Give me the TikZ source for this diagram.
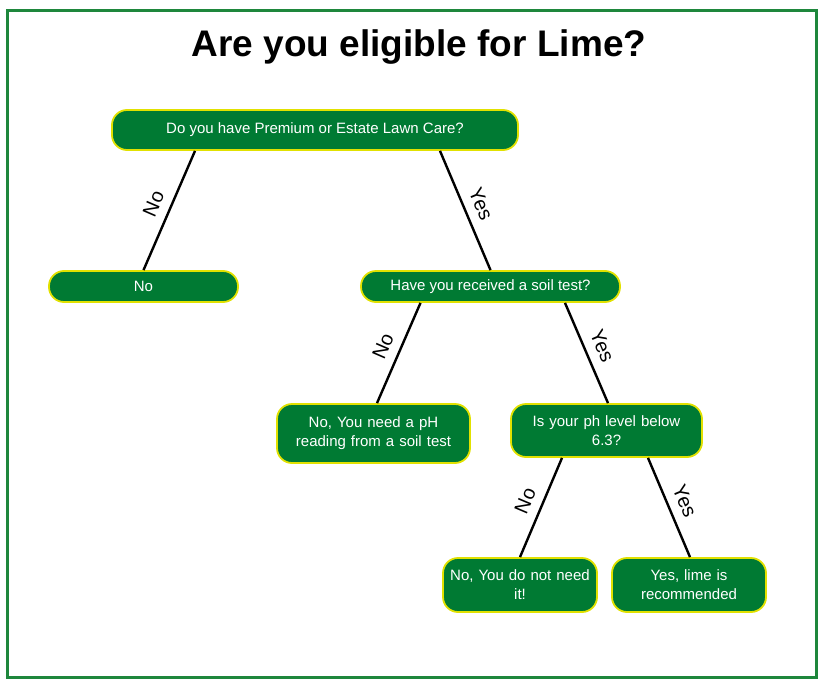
\documentclass[tikz,border=0pt]{standalone}
\usepackage{fontspec}
\setmainfont{Liberation Sans}
\usetikzlibrary{positioning}
\definecolor{lawngreen}{RGB}{0,122,51}
\definecolor{framegreen}{RGB}{30,135,60}
\definecolor{rimyellow}{RGB}{225,225,0}

\begin{document}
\begin{tikzpicture}[x=1pt,y=-1pt,
  answer/.style={draw=rimyellow, line width=1.8pt, fill=lawngreen, text=white,
    rounded corners=15pt, align=center, inner sep=2pt,
    font=\fontsize{15}{19}\selectfont},
  branch/.style={line width=2.4pt},
  tag/.style={sloped, above=7pt, midway, inner sep=2pt, font=\fontsize{20}{22}\selectfont}]
\useasboundingbox (0,0) rectangle (824,685);
\draw[framegreen, line width=3pt] (7,11) rectangle (816,677);
\node (title) at (419,47) {\fontsize{37}{42}\selectfont\bfseries Are you eligible for Lime?};
\node[answer, minimum width=406pt, minimum height=40pt] (lawn) at (315,130) {Do you have Premium or Estate Lawn Care?};
\node[answer, minimum width=189pt, minimum height=31pt] (nolawn) at (143.5,286.5) {No};
\node[answer, minimum width=259pt, minimum height=31pt] (soil) at (490.5,286.5) {Have you received a soil test?};
\node[answer, minimum width=193pt, minimum height=59pt, text width=185pt] (needph) at (373.5,433.5) {No, You need a pH\\ reading from a soil test};
\node[answer, minimum width=191pt, minimum height=53pt, text width=185pt] (level) at (606.5,430.5) {Is your ph level below\\ 6.3?};
\node[answer, minimum width=154pt, minimum height=54pt, text width=150pt] (noneed) at (520,585) {No, You do not need\\ it!};
\node[answer, minimum width=154pt, minimum height=54pt, text width=150pt] (lime) at (689,585) {Yes, lime is\\ recommended};
\draw[branch] ([xshift=-120pt]lawn.south) -- (nolawn.north) node[tag] {No};
\draw[branch] ([xshift=125pt]lawn.south) -- (soil.north) node[tag] {Yes};
\draw[branch] ([xshift=-70pt]soil.south) -- ([xshift=3.5pt]needph.north) node[tag] {No};
\draw[branch] ([xshift=74.5pt]soil.south) -- ([xshift=1.5pt]level.north) node[tag] {Yes};
\draw[branch] ([xshift=-44.5pt]level.south) -- (noneed.north) node[tag] {No};
\draw[branch] ([xshift=41.5pt]level.south) -- ([xshift=1pt]lime.north) node[tag] {Yes};
\end{tikzpicture}
\end{document}
